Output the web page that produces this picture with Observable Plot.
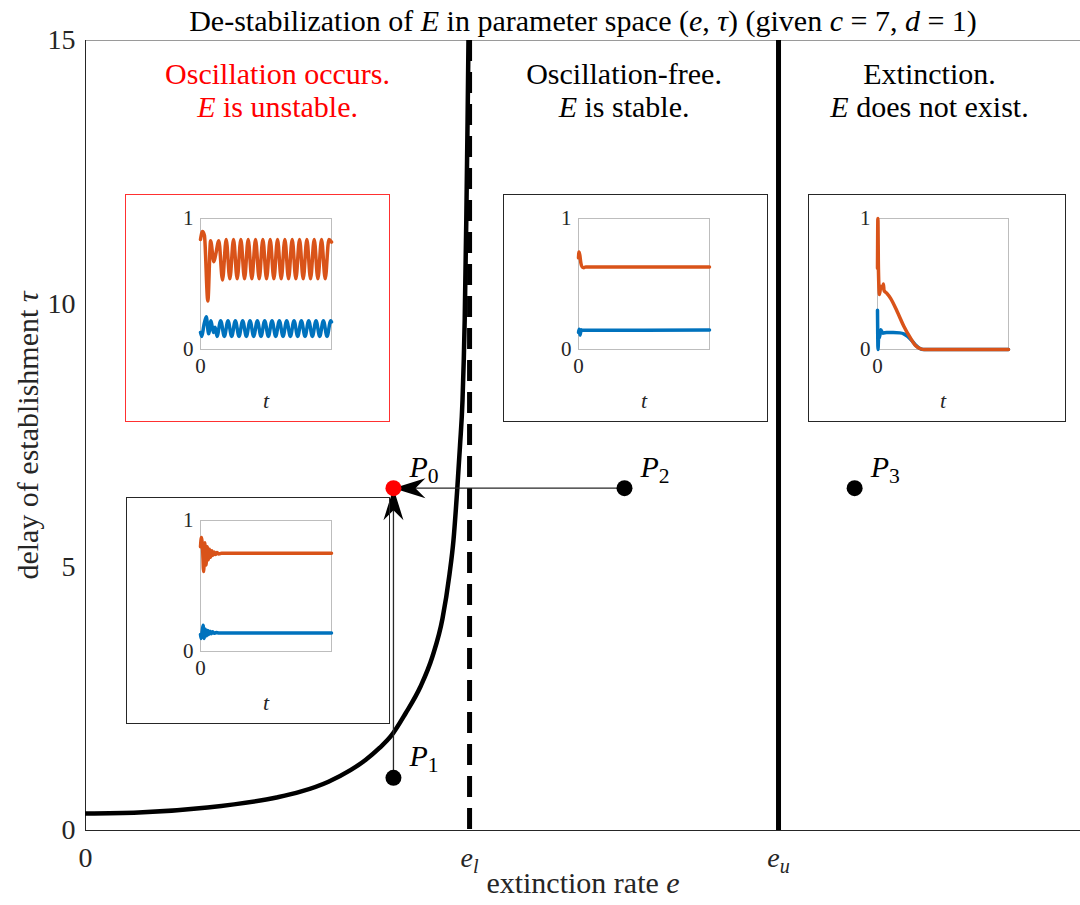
<!DOCTYPE html>
<html><head><meta charset="utf-8">
<script src="https://cdn.jsdelivr.net/npm/d3@7"></script>
<script src="https://cdn.jsdelivr.net/npm/@observablehq/plot@0.6"></script>
<style>
body{margin:0;background:#fff;}
#chart{position:relative;width:1080px;height:905px;overflow:hidden;background:#fff;}
#chart svg{position:absolute;}
</style></head><body><div id="chart"></div>
<script>
// ---------------- data ----------------
const titleText = "De-stabilization of $E$ in parameter space ($e$, $τ$) (given $c$ = 7, $d$ = 1)";
const xLabel = "extinction rate $e$";
const yLabel = "delay of establishment $τ$";
const eL = 0.386, eU = 0.6965, eMax = 1;
const xTicks = [0, eL, eU];
const xTickLabels = ["0", "$e$_l", "$e$_u"];
const yTicks = [0, 5, 10, 15];

// Hopf boundary curve (e, tau)
const boundaryE   = [0, 0.0533, 0.1226, 0.1920, 0.2161, 0.2442, 0.2663, 0.2814, 0.2955, 0.3075, 0.3216, 0.3367, 0.3487, 0.3588, 0.3658, 0.3698, 0.3736, 0.3764, 0.3789, 0.3811, 0.3827, 0.3840, 0.3849];
const boundaryTau = [0.323, 0.342, 0.437, 0.627, 0.737, 0.927, 1.145, 1.339, 1.567, 1.804, 2.222, 2.734, 3.304, 4.025, 4.861, 5.506, 6.475, 7.310, 8.165, 9.684, 11.582, 13.481, 15.0];

// parameter points
const pointNames = ["$P$_0", "$P$_1", "$P$_2", "$P$_3"];
const pointE     = [0.3095, 0.3095, 0.5417, 0.773];
const pointTau   = [6.5, 1, 6.5, 6.5];
const unstablePoint = "$P$_0";
const arrowFrom = ["$P$_2", "$P$_1"];
const arrowTo   = ["$P$_0", "$P$_0"];

const regionLabels = ["Oscillation occurs.\n$E$ is unstable.", "Oscillation-free.\n$E$ is stable.", "Extinction.\n$E$ does not exist."];

// insets: time series (t in 0..100, values 0..1)
// A: oscillation (point P0)
const insetA_tOrange = [0, 1.5, 3, 5.6, 7.7, 10.2, 11.5, 14, 16.8, 19.6, 22.4, 25.2, 28, 30.8, 33.6, 36.4, 39.2, 42, 44.8, 47.6, 50.4, 53.2, 56, 58.8, 61.6, 64.4, 67.2, 70, 72.8, 75.6, 78.4, 81.2, 84, 86.8, 89.6, 92.4, 95.2, 98, 100];
const insetA_orange  = [0.84, 0.90, 0.87, 0.37, 0.83, 0.67, 0.72, 0.83, 0.53, 0.84, 0.54, 0.84, 0.54, 0.84, 0.54, 0.84, 0.54, 0.84, 0.54, 0.84, 0.54, 0.84, 0.54, 0.84, 0.54, 0.84, 0.54, 0.84, 0.54, 0.84, 0.54, 0.84, 0.54, 0.84, 0.54, 0.84, 0.54, 0.84, 0.82];
const insetA_tBlue = [0, 1, 2.5, 4.4, 6.2, 8, 9.8, 11.2, 12.6, 15.4, 18.2, 21, 23.8, 26.6, 29.4, 32.2, 35, 37.8, 40.6, 43.4, 46.2, 49, 51.8, 54.6, 57.4, 60.2, 63, 65.8, 68.6, 71.4, 74.2, 77, 79.8, 82.6, 85.4, 88.2, 91, 93.8, 96.6, 99.4, 100];
const insetA_blue  = [0.13, 0.10, 0.18, 0.25, 0.12, 0.22, 0.13, 0.17, 0.10, 0.22, 0.10, 0.22, 0.10, 0.22, 0.10, 0.22, 0.10, 0.22, 0.10, 0.22, 0.10, 0.22, 0.10, 0.22, 0.10, 0.22, 0.10, 0.22, 0.10, 0.22, 0.10, 0.22, 0.10, 0.22, 0.10, 0.22, 0.10, 0.22, 0.10, 0.22, 0.21];
// B: damped (point P1)
const insetB_tOrange = [0, 0.7, 1.6, 2.4, 3.3, 4.2, 5.1, 6.0, 6.9, 7.8, 8.7, 9.6, 10.5, 11.5, 12.5, 14, 16, 100];
const insetB_orange  = [0.80, 0.87, 0.78, 0.61, 0.83, 0.66, 0.80, 0.70, 0.78, 0.72, 0.77, 0.735, 0.76, 0.74, 0.755, 0.745, 0.75, 0.75];
const insetB_tBlue = [0, 0.5, 1.2, 2.0, 2.8, 3.7, 4.6, 5.5, 6.4, 7.3, 8.2, 9.1, 10.5, 12, 14, 100];
const insetB_blue  = [0.13, 0.10, 0.15, 0.20, 0.10, 0.17, 0.12, 0.16, 0.13, 0.155, 0.135, 0.15, 0.14, 0.145, 0.142, 0.142];
// C: oscillation-free (point P2)
const insetC_tOrange = [0, 0.4, 1.0, 1.8, 2.8, 4, 5.5, 100];
const insetC_orange  = [0.70, 0.745, 0.72, 0.66, 0.63, 0.625, 0.63, 0.63];
const insetC_tBlue = [0, 0.5, 1.2, 2, 3, 100];
const insetC_blue  = [0.13, 0.155, 0.11, 0.15, 0.147, 0.148];
// D: extinction (point P3)
const insetD_tOrange = [0, 0.3, 0.7, 1.5, 2.5, 4, 4.5, 5, 7, 10, 15, 20, 25, 29, 33, 36, 100];
const insetD_orange  = [0.62, 1.0, 0.62, 0.42, 0.48, 0.47, 0.50, 0.45, 0.43, 0.39, 0.29, 0.18, 0.09, 0.03, 0.005, 0, 0];
const insetD_tBlue = [0, 0.4, 1.0, 1.5, 2.5, 4, 7, 12, 17, 20, 23, 26, 29, 32, 35, 100];
const insetD_blue  = [0.30, 0.0, 0.14, 0.09, 0.15, 0.125, 0.13, 0.13, 0.127, 0.12, 0.10, 0.07, 0.035, 0.01, 0, 0];
const insetTicksY = [0, 1];
const insetTicksX = [0];
const insetXLabel = "$t$";

// ---------------- drawing ----------------
const FONT = "'Liberation Serif', 'DejaVu Serif', serif";
const ORANGE = "#D95319", BLUE = "#0072BD";
const chart = document.getElementById("chart");

const boundary = boundaryE.map((e, i) => ({e, tau: boundaryTau[i]}));
const points = pointNames.map((name, i) => ({name, e: pointE[i], tau: pointTau[i]}));
const byName = Object.fromEntries(points.map(p => [p.name, p]));
const arrows = arrowFrom.map((f, i) => {
  const a = byName[f], b = byName[arrowTo[i]];
  const rot = a.e === b.e ? (a.tau < b.tau ? 0 : 180) : (a.e > b.e ? -90 : 90);
  return {x1: a.e, y1: a.tau, x2: b.e, y2: b.tau, rot};
});
const bounds = [0, eL, eU, eMax];
const regions = regionLabels.map((text, i) => ({text, e: (bounds[i] + bounds[i + 1]) / 2, idx: i}));

const arrowHead = {draw(ctx) { ctx.moveTo(0, 0); ctx.lineTo(10, 32); ctx.lineTo(0, 22); ctx.lineTo(-10, 32); ctx.closePath(); }};

const main = Plot.plot({
  width: 1080, height: 905,
  marginTop: 40, marginBottom: 75, marginLeft: 85, marginRight: 0,
  x: {domain: [0, eMax]},
  y: {domain: [0, 15]},
  style: {fontFamily: FONT, fontSize: "28px", color: "#262626", background: "transparent", overflow: "visible"},
  marks: [
    Plot.ruleY([15], {stroke: "#9a9a9a", strokeWidth: 1}),
    Plot.ruleY([0], {stroke: "#262626", strokeWidth: 1}),
    Plot.ruleX([0], {stroke: "#262626", strokeWidth: 1}),
    Plot.axisY(yTicks, {tickSize: 0, tickPadding: 10, label: null, tickFormat: d => String(d)}),
    Plot.axisX(xTicks, {tickSize: 0, tickPadding: 17, label: null, tickFormat: d => xTickLabels[xTicks.indexOf(d)]}),
    Plot.text([titleText], {frameAnchor: "top", lineAnchor: "middle", dy: -19.6, fill: "#000", fontSize: 30, wordSpacing: 8}),
    Plot.text([xLabel], {frameAnchor: "bottom", lineAnchor: "middle", dy: 53, fontSize: 30, letterSpacing: 0.6}),
    Plot.text([yLabel], {frameAnchor: "left", textAnchor: "middle", lineAnchor: "middle", dx: -57, rotate: -90, fontSize: 30, letterSpacing: 0.6}),
    Plot.ruleX([eL], {stroke: "#000", strokeWidth: 5, strokeDasharray: "21,11"}),
    Plot.ruleX([eU], {stroke: "#000", strokeWidth: 5}),
    Plot.line(boundary, {x: "e", y: "tau", stroke: "#000", strokeWidth: 4.5, curve: "monotone-x", clip: true}),
    Plot.text(regions, {x: "e", text: "text", frameAnchor: "top", lineAnchor: "middle", dy: 49, lineHeight: 1.1, fontSize: 30, fill: d => d.idx === 0 ? "red" : "#000"}),
    Plot.link(arrows, {x1: "x1", y1: "y1", x2: "x2", y2: "y2", stroke: "#262626", strokeWidth: 1.3}),
    Plot.dot(arrows, {x: "x2", y: "y2", symbol: arrowHead, rotate: "rot", fill: "#000", stroke: "none", r: 8}),
    Plot.dot(points, {x: "e", y: "tau", r: 8, fill: d => d.name === unstablePoint ? "red" : "#000", stroke: "none"}),
    Plot.text(points, {x: "e", y: "tau", text: "name", textAnchor: "start", dx: 16, dy: -21, fontSize: 30, fill: "#000"})
  ]
});
main.style.left = "0px"; main.style.top = "0px";
chart.appendChild(main);

function makeInset(tO, vO, tB, vB, lay) {
  const orange = tO.map((t, i) => ({t, v: vO[i]}));
  const blue = tB.map((t, i) => ({t, v: vB[i]}));
  const inner = 131;
  const svg = Plot.plot({
    width: lay.w, height: lay.h,
    marginLeft: lay.ml, marginTop: lay.mt, marginRight: lay.w - lay.ml - inner, marginBottom: lay.h - lay.mt - inner,
    x: {domain: [0, 100]}, y: {domain: [0, 1]},
    style: {fontFamily: FONT, fontSize: "21px", color: "#262626", background: "transparent", overflow: "visible"},
    marks: [
      Plot.frame({stroke: "#bdbdbd", strokeWidth: 1}),
      Plot.axisY(insetTicksY, {tickSize: 0, tickPadding: 7, label: null, tickFormat: d => String(d)}),
      Plot.axisX(insetTicksX, {tickSize: 0, tickPadding: 9, label: null, tickFormat: d => String(d)}),
      Plot.text([insetXLabel], {frameAnchor: "bottom", lineAnchor: "middle", dy: 51, fontSize: 22}),
      Plot.line(blue, {x: "t", y: "v", stroke: BLUE, strokeWidth: 3.5, curve: "monotone-x"}),
      Plot.line(orange, {x: "t", y: "v", stroke: ORANGE, strokeWidth: 3.5, curve: "monotone-x"})
    ]
  });
  svg.style.left = lay.x + "px"; svg.style.top = lay.y + "px";
  svg.style.outline = "1px solid " + lay.border; svg.style.outlineOffset = "-1px";
  chart.appendChild(svg);
}
makeInset(insetA_tOrange, insetA_orange, insetA_tBlue, insetA_blue, {x: 125, y: 194, w: 265, h: 228, ml: 75, mt: 24, border: "#ff3030"});
makeInset(insetB_tOrange, insetB_orange, insetB_tBlue, insetB_blue, {x: 126, y: 497, w: 264, h: 227, ml: 74, mt: 23, border: "#262626"});
makeInset(insetC_tOrange, insetC_orange, insetC_tBlue, insetC_blue, {x: 503, y: 194, w: 265, h: 228, ml: 75, mt: 24, border: "#262626"});
makeInset(insetD_tOrange, insetD_orange, insetD_tBlue, insetD_blue, {x: 808, y: 194, w: 258, h: 228, ml: 69, mt: 24, border: "#262626"});

// rich text: $...$ italic, _x subscript
const NS = "http://www.w3.org/2000/svg";
function richify(root) {
  root.querySelectorAll("text").forEach(t => {
    const targets = t.querySelector("tspan") ? [...t.querySelectorAll("tspan")] : [t];
    for (const el of targets) {
      const s = el.textContent;
      if (!/[$_]/.test(s)) continue;
      el.textContent = "";
      s.split("$").forEach((seg, i) => {
        const italic = i % 2 === 1;
        for (const p of seg.split(/(_.)/)) {
          if (!p) continue;
          const ts = document.createElementNS(NS, "tspan");
          if (italic) ts.setAttribute("font-style", "italic");
          if (p.length === 2 && p[0] === "_") {
            ts.textContent = p[1];
            ts.setAttribute("baseline-shift", "-0.3em");
            ts.setAttribute("font-size", "72%");
            ts.setAttribute("font-style", /[a-z]/.test(p[1]) ? "italic" : "normal");
          } else ts.textContent = p;
          el.appendChild(ts);
        }
      });
    }
  });
}
richify(chart);
</script></body></html>
